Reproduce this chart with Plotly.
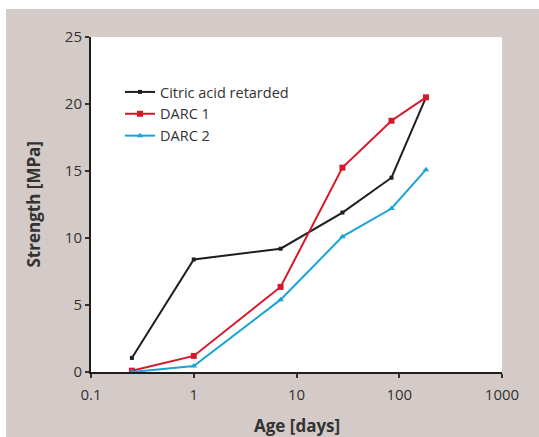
import plotly.graph_objects as go

# Curing age in days and compressive strength in MPa
age_days = [0.25, 1, 7, 28, 84, 182]
citric_acid = [1.05, 8.4, 9.2, 11.9, 14.5, 20.5]
darc_1 = [0.1, 1.2, 6.35, 15.25, 18.75, 20.5]
darc_2 = [0.0, 0.45, 5.4, 10.1, 12.2, 15.1]

series_names = ["Citric acid retarded", "DARC 1", "DARC 2"]
x_ticks = [0.1, 1, 10, 100, 1000]
x_tick_text = ["0.1", "1", "10", "100", "1000"]
y_ticks = [0, 5, 10, 15, 20, 25]
x_title = "Age [days]"
y_title = "Strength [MPa]"

W, H = 539, 437
L, R, T, B = 91, 37, 37, 65
PW, PH = W - L - R, H - T - B

FONT = "Open Sans"
GREY_BG = "#d4cbc8"
TEXT = "#333333"

fig = go.Figure()
styles = [
    dict(color="#1e1e1e", symbol="square", size=4),
    dict(color="#d7182a", symbol="square", size=6),
    dict(color="#1ba3d6", symbol="triangle-up", size=6),
]
for name, vals, st in zip(series_names, [citric_acid, darc_1, darc_2], styles):
    fig.add_trace(go.Scatter(
        x=age_days, y=vals, name=name, mode="lines+markers",
        line=dict(color=st["color"], width=2),
        marker=dict(color=st["color"], symbol=st["symbol"], size=st["size"]),
        cliponaxis=False,
    ))


def px_x(p):
    return (p - L) / PW


def px_y(p):
    return (H - B - p) / PH


# white border strips around the grey frame
for x0, x1, y0, y1 in [(0, W, 0, 9), (0, 6, 0, H)]:
    fig.add_shape(type="rect", xref="paper", yref="paper",
                  x0=px_x(x0), x1=px_x(x1), y0=px_y(y1), y1=px_y(y0),
                  fillcolor="white", line_width=0, layer="above")

# axis titles
fig.add_annotation(text=f"<b>{x_title}</b>", xref="paper", yref="paper",
                   x=0.5, y=px_y(425), xanchor="center", yanchor="middle",
                   showarrow=False, font=dict(size=17, color=TEXT))
fig.add_annotation(text=f"<b>{y_title}</b>", xref="paper", yref="paper",
                   x=px_x(33), y=0.5, xanchor="center", yanchor="middle",
                   textangle=-90, showarrow=False, font=dict(size=17, color=TEXT))

fig.update_layout(
    width=W, height=H,
    margin=dict(l=L, r=R, t=T, b=B),
    paper_bgcolor=GREY_BG,
    plot_bgcolor="white",
    font=dict(family=FONT, color=TEXT, size=15),
    showlegend=True,
    legend=dict(x=px_x(120), y=px_y(76), xanchor="left", yanchor="top",
                bgcolor="rgba(0,0,0,0)", font=dict(size=14.5, color=TEXT),
                itemwidth=30),
    xaxis=dict(type="log", range=[-1, 3], tickvals=x_ticks, ticktext=x_tick_text,
               showgrid=False, zeroline=False, showline=True, linecolor="#1e1e1e",
               linewidth=2, ticks="outside", ticklen=4, tickcolor=TEXT,
               tickwidth=1.5, tickfont=dict(size=15), ticklabelstandoff=4,
               automargin=False),
    yaxis=dict(range=[0, 25], tickvals=y_ticks, showgrid=False, zeroline=False,
               showline=True, linecolor="#1e1e1e", linewidth=2, ticks="outside",
               ticklen=4, tickcolor=TEXT, tickwidth=1.5, tickfont=dict(size=15),
               automargin=False),
)

fig.write_html("out.html")
